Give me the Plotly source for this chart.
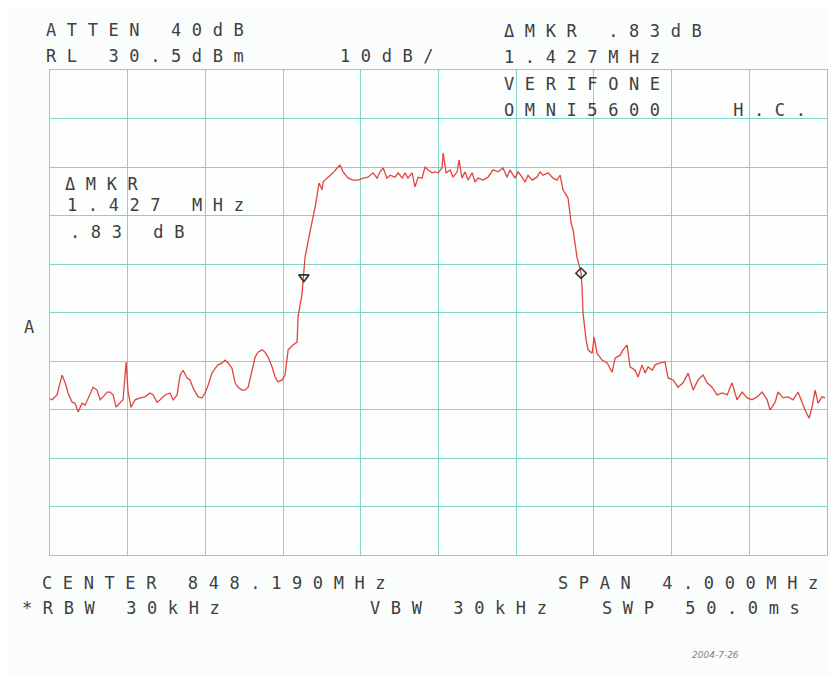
import plotly.graph_objects as go

# spectrum analyzer settings
center_mhz = 848.190
span_mhz = 4.000
ref_level_dbm = 30.5
db_per_div = 10

# trace (MHz, dBm)
freq_mhz = [846.190, 846.201, 846.226, 846.252, 846.268, 846.283, 846.304, 846.319, 846.335, 846.355,
            846.371, 846.396, 846.412, 846.432, 846.448, 846.463, 846.484, 846.499, 846.515, 846.530,
            846.551, 846.566, 846.582, 846.592, 846.607, 846.628, 846.654, 846.679, 846.705, 846.721,
            846.741, 846.757, 846.782, 846.808, 846.824, 846.844, 846.860, 846.875, 846.896, 846.911,
            846.927, 846.952, 846.973, 846.988, 847.004, 847.024, 847.040, 847.055, 847.076, 847.091,
            847.107, 847.127, 847.143, 847.158, 847.179, 847.194, 847.210, 847.230, 847.246, 847.261,
            847.282, 847.297, 847.313, 847.333, 847.349, 847.364, 847.385, 847.400, 847.416, 847.441,
            847.462, 847.467, 847.488, 847.493, 847.503, 847.513, 847.529, 847.544, 847.555, 847.565,
            847.575, 847.591, 847.596, 847.616, 847.632, 847.647, 847.668, 847.683, 847.699, 847.725,
            847.750, 847.776, 847.802, 847.827, 847.853, 847.874, 847.889, 847.905, 847.925, 847.941,
            847.966, 847.982, 848.003, 848.018, 848.033, 848.054, 848.069, 848.085, 848.105, 848.121,
            848.136, 848.157, 848.172, 848.188, 848.208, 848.214, 848.229, 848.250, 848.265, 848.286,
            848.296, 848.311, 848.327, 848.342, 848.363, 848.378, 848.394, 848.419, 848.445, 848.471,
            848.497, 848.522, 848.543, 848.558, 848.584, 848.600, 848.620, 848.636, 848.651, 848.672,
            848.697, 848.713, 848.728, 848.754, 848.780, 848.800, 848.816, 848.831, 848.857, 848.873,
            848.883, 848.903, 848.924, 848.929, 848.934, 848.950, 848.960, 848.981, 848.991, 849.006,
            849.032, 849.058, 849.084, 849.099, 849.125, 849.140, 849.161, 849.176, 849.202, 849.217,
            849.238, 849.253, 849.269, 849.290, 849.305, 849.331, 849.356, 849.372, 849.398, 849.423,
            849.449, 849.475, 849.501, 849.526, 849.552, 849.573, 849.598, 849.624, 849.650, 849.676,
            849.701, 849.727, 849.753, 849.779, 849.804, 849.830, 849.856, 849.882, 849.897, 849.923,
            849.938, 849.964, 849.990, 850.015, 850.041, 850.062, 850.077, 850.098, 850.113, 850.129,
            850.144, 850.165, 850.180]

level_dbm = [-37.3, -37.5, -36.5, -32.4, -34.0, -36.1, -38.0, -38.2, -40.0, -38.2,
             -38.6, -36.1, -34.9, -35.5, -37.5, -36.9, -35.9, -35.9, -36.5, -39.0,
             -38.0, -37.5, -29.7, -35.9, -39.0, -37.5, -37.1, -36.9, -36.1, -36.5,
             -38.0, -37.5, -36.5, -36.1, -37.5, -36.5, -32.4, -31.4, -33.0, -33.4,
             -35.1, -36.9, -37.1, -36.1, -34.5, -32.0, -31.0, -30.3, -29.9, -29.3,
             -29.9, -31.0, -34.0, -34.9, -35.5, -35.5, -34.9, -31.4, -28.7, -27.7,
             -27.2, -27.7, -28.7, -30.7, -32.8, -33.8, -33.4, -32.4, -27.2, -26.2,
             -25.6, -20.4, -15.5, -12.8, -8.1, -6.0, -2.5, 0.2, 2.2, 4.7,
             7.2, 5.8, 7.4, 8.2, 8.8, 9.3, 10.3, 10.9, 9.5, 8.2,
             7.8, 7.8, 8.2, 8.4, 9.3, 8.2, 9.5, 10.3, 8.2, 8.8,
             8.4, 9.3, 8.2, 9.3, 8.2, 9.3, 6.4, 8.4, 8.2, 10.5,
             9.9, 9.3, 9.5, 9.3, 10.3, 13.4, 9.3, 9.9, 8.4, 9.5,
             11.9, 8.2, 9.5, 7.8, 9.3, 7.4, 8.2, 7.8, 8.4, 9.9,
             9.5, 10.3, 8.4, 9.9, 8.2, 9.5, 8.4, 7.4, 8.8, 7.8,
             8.4, 9.5, 8.8, 9.3, 8.2, 7.8, 8.8, 5.8, 4.1, -1.1,
             -2.5, -8.1, -11.4, -14.2, -19.6, -25.2, -27.2, -27.9, -24.6, -27.9,
             -29.3, -29.9, -31.8, -28.9, -28.3, -27.2, -26.2, -30.7, -31.4, -32.8,
             -30.3, -32.0, -30.7, -31.4, -30.3, -29.9, -29.7, -33.0, -33.4, -34.9,
             -34.0, -32.0, -35.5, -33.4, -32.4, -34.0, -34.9, -36.5, -36.1, -36.5,
             -34.0, -37.5, -35.9, -37.1, -37.5, -36.9, -35.9, -37.5, -39.6, -38.0,
             -35.9, -37.1, -36.9, -37.5, -35.9, -38.2, -39.6, -41.3, -39.0, -35.5,
             -38.2, -36.9, -37.1]

# markers (reference and delta)
mkr_ref_mhz = 847.497
mkr_ref_dbm = -12.2
mkr_delta_mhz = 848.924
mkr_delta_dbm = -11.4

f_lo = center_mhz - span_mhz / 2
f_hi = center_mhz + span_mhz / 2
l_hi = ref_level_dbm
l_lo = ref_level_dbm - 10 * db_per_div

# page has an 8px body margin, so the figure is shrunk to fit the window
PAGE = 8
W, H = 838 - PAGE, 677 - PAGE
L, R, T, B = 42, 11, 62, 122
grid_color = 'rgb(128,212,200)'
ink = '#404040'
font_family = 'DejaVu Sans Mono, Liberation Mono, monospace'


def spaced(s, ls=10.6):
    return f'<span style="letter-spacing:{ls}px">{s}</span>'


def px(x, y):
    # window pixel position -> paper coords
    x, y = x - PAGE, y - PAGE
    return (x - L) / (W - L - R), (H - B - y) / (H - T - B)


fig = go.Figure()

fig.add_trace(go.Scatter(
    x=freq_mhz, y=level_dbm, mode='lines',
    line=dict(color='#e5433f', width=1.3),
    hoverinfo='skip', showlegend=False,
))

fig.add_trace(go.Scatter(
    x=[mkr_ref_mhz], y=[mkr_ref_dbm], mode='markers',
    marker=dict(symbol='triangle-down-open', size=9, color='#333', line=dict(width=1.6)),
    showlegend=False,
))
fig.add_trace(go.Scatter(
    x=[mkr_delta_mhz], y=[mkr_delta_dbm], mode='markers',
    marker=dict(symbol='diamond-open', size=8, color='#333', line=dict(width=1.6)),
    showlegend=False,
))

texts = [
    ('ATTEN 40dB', 44, 30),
    ('RL 30.5dBm', 44, 56),
    ('10dB/', 338, 56),
    ('ΔMKR .83dB', 502, 31),
    ('1.427MHz', 502, 57),
    ('VERIFONE', 502, 84),
    ('OMNI5600   H.C.', 502, 110),
    ('ΔMKR', 63, 184),
    ('1.427 MHz', 65, 205),
    ('.83 dB', 68, 232),
    ('A', 22, 327),
    ('CENTER 848.190MHz', 40, 583),
    ('SPAN 4.000MHz', 556, 583),
    ('*RBW 30kHz', 20, 608),
    ('VBW 30kHz', 368, 608),
    ('SWP 50.0ms', 600, 608),
]
for s, x0, y0 in texts:
    ax, ay = px(x0, y0)
    fig.add_annotation(
        x=ax, y=ay, xref='paper', yref='paper', xanchor='left', yanchor='middle',
        text=spaced(s), showarrow=False,
        font=dict(family=font_family, size=17, color=ink),
    )

# handwritten date in the corner
ax, ay = px(690, 655)
fig.add_annotation(
    x=ax, y=ay, xref='paper', yref='paper', xanchor='left', yanchor='middle',
    text='2004-7-26', showarrow=False,
    font=dict(family='DejaVu Sans', size=9, color='#7a8090', style='italic'),
)

axis_common = dict(
    showticklabels=False, ticks='', zeroline=False,
    showgrid=True, gridcolor=grid_color, gridwidth=1,
    showline=True, linecolor=grid_color, linewidth=1.2, mirror=True,
)
fig.update_xaxes(range=[f_lo, f_hi], tick0=f_lo, dtick=span_mhz / 10, **axis_common)
fig.update_yaxes(range=[l_lo, l_hi], tick0=l_lo, dtick=db_per_div, **axis_common)

fig.update_layout(
    width=W, height=H,
    margin=dict(l=L, r=R, t=T, b=B),
    paper_bgcolor='#fbfdfd',
    plot_bgcolor='#fdfefe',
    showlegend=False,
)

fig.write_html('out.html')
